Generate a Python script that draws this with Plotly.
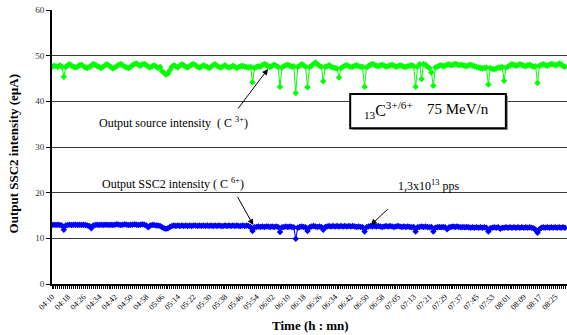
import plotly.graph_objects as go

tick_labels = ["04:10", "04:18", "04:26", "04:34", "04:42", "04:50", "04:58", "05:06", "05:14",
               "05:22", "05:30", "05:38", "05:46", "05:54", "06:02", "06:10", "06:18", "06:26",
               "06:34", "06:42", "06:50", "06:58", "07:05", "07:13", "07:21", "07:29", "07:37",
               "07:45", "07:53", "08:01", "08:09", "08:17", "08:25"]

source_c3 = [
    47.6, 47.8, 47.7, 47.5, 47.9, 47.6, 45.4, 47.5, 47.9, 48.1,
    47.8, 47.6, 47.4, 47.6, 47.9, 48.0, 47.7, 47.4, 47.3, 47.5,
    47.8, 48.2, 48.0, 47.7, 47.5, 47.3, 47.6, 47.9, 48.1, 47.8,
    47.5, 47.2, 47.4, 47.7, 48.0, 48.2, 47.9, 47.6, 47.4, 47.3,
    47.6, 47.9, 48.2, 48.3, 48.0, 47.8, 48.1, 48.2, 47.9, 47.6,
    47.4, 47.7, 47.9, 47.6, 47.3, 47.5, 46.6, 46.2, 45.9, 46.1,
    46.8, 47.6, 47.9, 47.7, 47.4, 47.8, 48.1, 47.9, 47.6, 47.4,
    47.7, 48.0, 48.2, 47.9, 47.6, 47.4, 47.6, 47.9, 47.7, 47.5,
    47.3, 47.6, 47.9, 48.1, 47.8, 47.5, 47.4, 47.7, 47.9, 47.6,
    47.4, 47.5, 47.8, 47.6, 47.3, 47.5, 47.7, 47.8, 47.6, 47.5,
    47.4, 47.6, 44.2, 47.3, 47.5, 47.7, 47.6, 47.9, 48.2, 48.0,
    47.7, 47.5, 47.8, 48.0, 47.8, 47.6, 43.2, 47.4, 47.7, 47.9,
    48.0, 47.8, 47.6, 47.7, 41.8, 47.5, 47.8, 48.1, 47.9, 47.6,
    43.1, 47.5, 47.8, 48.2, 48.5, 48.1, 47.8, 47.6, 44.4, 47.5,
    47.7, 47.9, 47.6, 47.4, 47.3, 47.2, 45.2, 47.3, 47.6, 47.8,
    47.9, 47.7, 47.5, 47.6, 47.8, 47.9, 47.7, 47.6, 47.5, 43.2,
    47.4, 47.7, 48.0, 48.2, 48.0, 47.8, 47.7, 47.9, 48.0, 47.8,
    47.6, 47.7, 47.9, 48.0, 47.8, 47.6, 47.7, 47.9, 47.8, 47.6,
    47.5, 47.7, 47.8, 47.9, 47.7, 43.2, 47.6, 48.1, 44.9, 48.2,
    48.0, 47.6, 47.3, 46.3, 43.4, 47.4, 47.6, 47.8, 47.9, 47.7,
    47.8, 48.0, 48.1, 47.9, 48.0, 48.2, 48.1, 47.9, 48.0, 47.9,
    47.8, 47.7, 47.9, 48.0, 47.8, 47.7, 47.5, 47.4, 47.3, 47.2,
    47.3, 47.4, 43.7, 47.3, 47.1, 47.0, 47.2, 47.4, 47.3, 47.5,
    44.5, 47.4, 47.6, 47.9, 48.1, 48.0, 47.8, 47.9, 48.1, 48.0,
    47.8, 47.7, 47.9, 48.0, 47.8, 47.6, 47.7, 44.0, 47.8, 48.0,
    48.1, 47.9, 47.8, 48.0, 48.2, 48.1, 47.9, 48.0, 48.3, 48.1, 47.7, 47.6]

ssc2_c6 = [
    12.9, 13.0, 12.9, 13.0, 12.9, 12.8, 11.9, 12.8, 12.9, 13.0,
    12.9, 13.0, 13.0, 12.9, 13.0, 12.9, 13.0, 12.9, 12.8, 12.7,
    12.2, 12.8, 12.9, 13.0, 12.9, 13.0, 12.9, 13.0, 13.0, 12.9,
    13.0, 12.9, 13.0, 13.1, 13.0, 12.9, 13.0, 13.1, 13.0, 12.9,
    13.0, 13.0, 13.1, 13.0, 12.9, 13.0, 13.1, 13.0, 12.8, 12.4,
    12.8, 12.9, 12.9, 12.8, 12.8, 12.7, 12.4, 12.2, 12.1, 12.2,
    12.5, 12.7, 12.8, 12.7, 12.8, 12.7, 12.8, 12.7, 12.8, 12.7,
    12.8, 12.7, 12.8, 12.8, 12.7, 12.8, 12.7, 12.8, 12.7, 12.8,
    12.7, 12.8, 12.7, 12.8, 12.7, 12.8, 12.7, 12.7, 12.8, 12.7,
    12.8, 12.7, 12.8, 12.7, 12.8, 12.7, 12.7, 12.8, 12.7, 12.8,
    12.7, 12.5, 11.6, 12.4, 12.5, 12.6, 12.5, 12.6, 12.5, 12.6,
    12.6, 12.5, 12.6, 12.5, 12.6, 12.5, 11.4, 12.4, 12.5, 12.6,
    12.5, 12.6, 12.5, 12.4, 9.9, 12.3, 12.5, 12.6, 12.5, 12.4,
    11.6, 12.4, 12.6, 12.7, 12.6, 12.5, 12.6, 12.5, 11.9, 12.5,
    12.6, 12.7, 12.6, 12.7, 12.6, 12.7, 12.6, 12.7, 12.6, 12.7,
    12.6, 12.7, 12.6, 12.7, 12.6, 12.5, 12.6, 12.5, 12.4, 11.5,
    12.4, 12.6, 12.7, 12.6, 12.7, 12.6, 12.7, 12.6, 12.5, 12.6,
    12.7, 12.6, 12.7, 12.6, 12.5, 12.6, 12.7, 12.6, 12.5, 12.6,
    12.5, 12.6, 12.5, 12.4, 12.5, 11.5, 12.4, 12.5, 12.6, 12.5,
    12.6, 12.5, 12.4, 12.5, 11.5, 12.3, 12.4, 12.5, 12.4, 12.5,
    12.4, 12.0, 12.4, 12.5, 12.6, 12.5, 12.6, 12.5, 12.4, 12.5,
    12.4, 12.5, 12.4, 12.3, 12.4, 12.3, 12.4, 12.3, 12.4, 12.3,
    12.4, 12.3, 11.5, 12.2, 12.3, 12.4, 12.3, 12.4, 12.1, 12.3,
    12.3, 12.4, 12.3, 12.4, 12.3, 12.4, 12.3, 12.4, 12.3, 12.4,
    12.3, 12.4, 12.3, 12.4, 12.3, 12.2, 11.9, 11.2, 12.0, 12.3,
    12.4, 12.3, 12.4, 12.3, 12.4, 12.3, 12.4, 12.3, 12.4, 12.3, 12.4, 12.3]

SERIF = "Liberation Serif, Times New Roman, serif"
n = len(source_c3)
xs = list(range(n))

fig = go.Figure()
fig.add_trace(go.Scatter(x=xs, y=source_c3, mode="lines+markers",
                         line=dict(color="#00ff00", width=1),
                         marker=dict(symbol="diamond", size=5, color="#00ff00"),
                         showlegend=False))
fig.add_trace(go.Scatter(x=xs, y=ssc2_c6, mode="lines+markers",
                         line=dict(color="#0000ff", width=1),
                         marker=dict(symbol="diamond", size=5, color="#0000ff"),
                         showlegend=False))

fig.update_layout(
    width=567, height=335,
    margin=dict(l=52, r=0, t=10, b=51),
    paper_bgcolor="white", plot_bgcolor="white",
    font=dict(family=SERIF, color="black"),
    xaxis=dict(range=[0, 262], tickmode="array", automargin=False,
               tickvals=list(range(0, len(tick_labels) * 8, 8)),
               ticktext=tick_labels, tickangle=-45,
               tickfont=dict(size=8, family=SERIF, color="black"),
               showgrid=False, zeroline=False,
               showline=True, linecolor="black", linewidth=2,
               ticks="outside", ticklen=3, tickcolor="black", tickwidth=1,
               minor=dict(dtick=1, tick0=0, ticks="outside", ticklen=3,
                          tickcolor="black", tickwidth=1, showgrid=False)),
    yaxis=dict(range=[0, 60], dtick=10, automargin=False,
               tickfont=dict(size=9, family=SERIF, color="#333333"),
               showgrid=True, gridcolor="#3a3a3a", gridwidth=1, zeroline=False,
               showline=True, linecolor="black", linewidth=2,
               ticks="outside", ticklen=4, tickcolor="black"),
)

# frame box with shadow
fig.add_shape(type="rect", xref="x", yref="y", x0=153.0, x1=232.0, y0=33.7, y1=41.2,
              fillcolor="#9a9a9a", line=dict(width=0), layer="above")
fig.add_shape(type="rect", xref="x", yref="y", x0=151.7, x1=230.9, y0=34.1, y1=41.6,
              fillcolor="white", line=dict(color="black", width=2), layer="above")

ann = [
    dict(x=62, y=35.3, text="Output source intensity  ( C <sup>3+</sup>)", size=12),
    dict(x=61.7, y=22.1, text="Output SSC2 intensity ( C <sup>6+</sup>)", size=12),
    dict(x=191.6, y=21.6, text="1,3x10<sup>13</sup> pps", size=12),
    dict(x=171.2, y=38.0, text="<sub>13</sub>C<sup>3+/6+</sup>", size=16),
    dict(x=206.6, y=38.3, text="75 MeV/n", size=15),
]
for a in ann:
    fig.add_annotation(x=a["x"], y=a["y"], xref="x", yref="y", text=a["text"],
                       xanchor="center", yanchor="middle",
                       showarrow=False, font=dict(family=SERIF, size=a["size"], color="black"))

arrows = [
    (109.9, 47.1, 94.1, 38.1),
    (102.4, 12.9, 94.0, 19.4),
    (162.2, 12.9, 171.6, 16.7),
]
for hx, hy, tx, ty in arrows:
    fig.add_annotation(x=hx, y=hy, ax=tx, ay=ty, xref="x", yref="y", axref="x", ayref="y",
                       text="", showarrow=True, arrowhead=2, arrowsize=1.2, arrowwidth=1,
                       arrowcolor="black")

fig.add_annotation(x=-0.074, y=0.476, xref="paper", yref="paper", text="<b>Output SSC2 intensity (eµA)</b>",
                   xanchor="center", yanchor="middle",
                   textangle=-90, showarrow=False, font=dict(family=SERIF, size=13, color="black"))
fig.add_annotation(x=0.501, y=-0.15, xref="paper", yref="paper", text="<b>Time (h : mn)</b>",
                   xanchor="center", yanchor="middle",
                   showarrow=False, font=dict(family=SERIF, size=13, color="black"))

fig.write_html("out.html", config={"displayModeBar": False},
               post_script="document.body.style.margin='0';")
